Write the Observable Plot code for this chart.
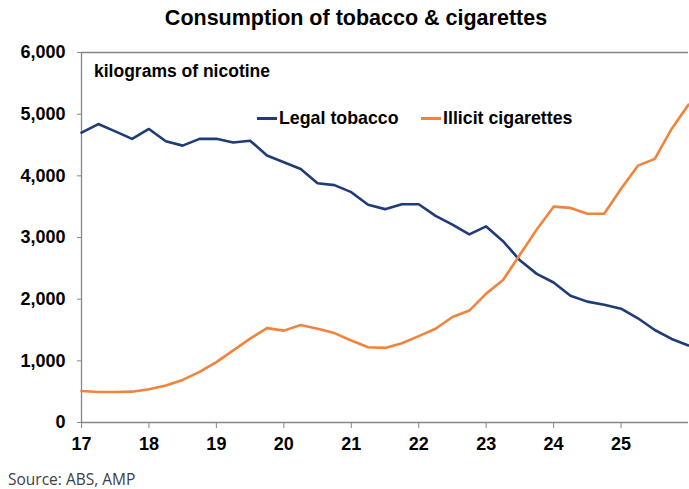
<!DOCTYPE html>
<html><head><meta charset="utf-8">
<script src="https://cdn.jsdelivr.net/npm/d3@7"></script>
<script src="https://cdn.jsdelivr.net/npm/@observablehq/plot@0.6"></script>
<style>
body{margin:0;background:#fff;}
#wrap{position:relative;width:689px;height:489px;font-family:"Liberation Sans",Arial,sans-serif;color:#000;}
#chart{position:absolute;left:0;top:0;}
.t{position:absolute;white-space:nowrap;}
#title{left:0;width:712px;top:6px;text-align:center;font-size:21.5px;font-weight:bold;}
#unit{left:94px;top:61px;font-size:17.5px;font-weight:bold;}
.leg{top:108px;font-size:17.8px;font-weight:bold;display:flex;align-items:center;}
.sw{display:inline-block;width:20px;height:2.5px;margin-right:2px;}
#source{left:8px;top:468px;font-family:"Open Sans",sans-serif;font-size:15.5px;color:#404040;}
</style></head><body>
<div id="wrap">
<div id="chart"></div>
<div class="t" id="title">Consumption of tobacco &amp; cigarettes</div>
<div class="t" id="unit">kilograms of nicotine</div>
<div class="t leg" id="leg1" style="left:257px"><span class="sw" style="background:#1f3b78"></span>Legal tobacco</div>
<div class="t leg" id="leg2" style="left:421px"><span class="sw" style="background:#f0843c"></span>Illicit cigarettes</div>
<div class="t" id="source">Source: ABS, AMP</div>
</div>
<script>
const quarters = [17,17.25,17.5,17.75,18,18.25,18.5,18.75,19,19.25,19.5,19.75,20,20.25,20.5,20.75,21,21.25,21.5,21.75,22,22.25,22.5,22.75,23,23.25,23.5,23.75,24,24.25,24.5,24.75,25,25.25,25.5,25.75,26];
const legalTobacco = [4700,4840,4720,4600,4760,4560,4490,4600,4600,4540,4570,4330,4220,4110,3880,3850,3735,3530,3460,3540,3540,3350,3210,3050,3180,2940,2630,2410,2270,2055,1960,1910,1845,1690,1500,1355,1250];
const illicitCigarettes = [510,495,495,500,540,600,690,820,980,1170,1360,1530,1490,1580,1520,1450,1330,1220,1210,1285,1400,1520,1710,1815,2090,2310,2720,3130,3500,3480,3385,3385,3790,4165,4275,4760,5155];
const xTicks = [17,18,19,20,21,22,23,24,25];
const yTicks = [0,1000,2000,3000,4000,5000,6000];

const data = quarters.map((q,i)=>({q, legal:legalTobacco[i], illicit:illicitCigarettes[i]}));
const axisColor = "#868686";
const chart = Plot.plot({
  width:689, height:489,
  marginTop:52, marginBottom:67, marginLeft:81, marginRight:1,
  style:{fontFamily:'"Liberation Sans",Arial,sans-serif', fontSize:"18px", fontWeight:"bold", color:"#000", background:"transparent"},
  x:{domain:[17,26]},
  y:{domain:[0,6000]},
  marks:[
    Plot.ruleY([6000],{stroke:axisColor, strokeWidth:1.3}),
    Plot.ruleX([17],{stroke:axisColor, strokeWidth:1.3}),
    Plot.ruleY([0],{stroke:axisColor, strokeWidth:1.3}),
    Plot.axisY({ticks:yTicks, tickFormat:d3.format(","), tickSize:4, tickPadding:12, stroke:axisColor, fill:"#000", label:null}),
    Plot.axisX({ticks:xTicks, tickFormat:d=>String(d), tickSize:6, tickPadding:9, stroke:axisColor, fill:"#000", label:null}),
    Plot.line(data,{x:"q", y:"legal", stroke:"#1f3b78", strokeWidth:2.6}),
    Plot.line(data,{x:"q", y:"illicit", stroke:"#f0843c", strokeWidth:2.6})
  ]
});
document.getElementById("chart").appendChild(chart);
</script>
</body></html>
